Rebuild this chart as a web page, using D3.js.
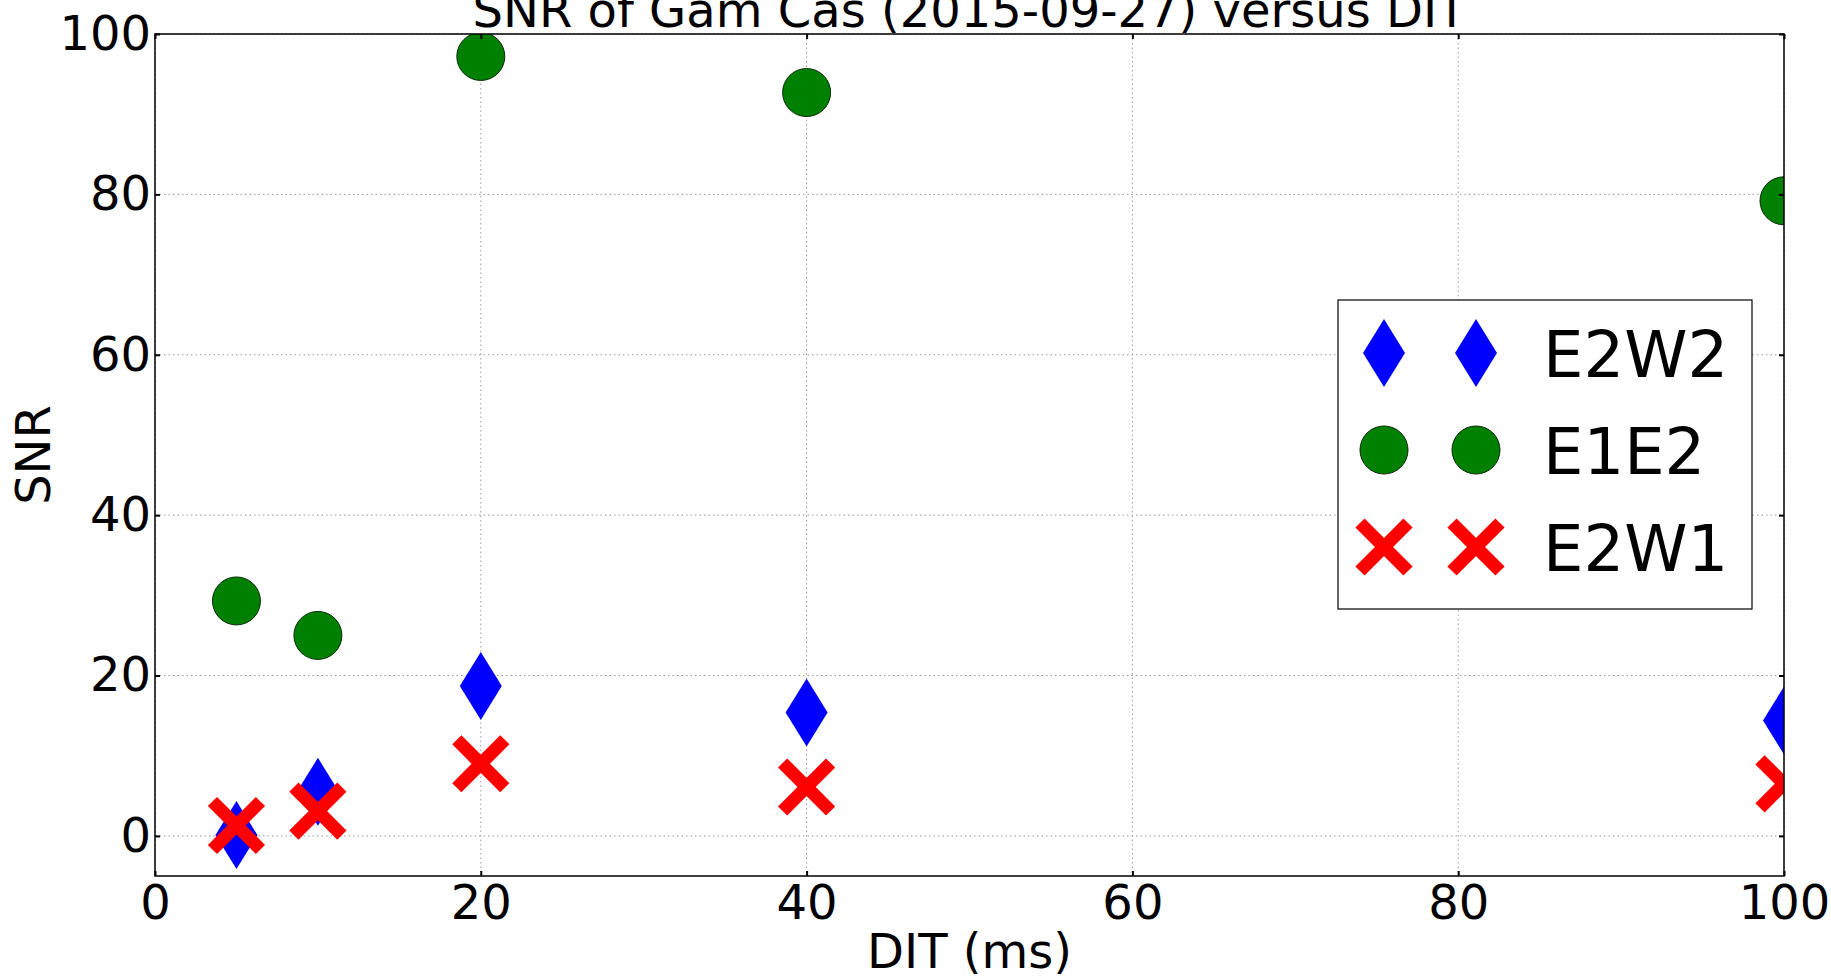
<!DOCTYPE html>
<html>
<head>
<meta charset="utf-8">
<script src="https://cdn.jsdelivr.net/npm/d3@7/dist/d3.min.js"></script>
<style>
  html, body { margin: 0; padding: 0; background: #fff; }
  svg { display: block; font-family: "DejaVu Sans", sans-serif; }
</style>
</head>
<body>
<svg id="chart" width="1831" height="980"></svg>
<script>
// Detector integration times (ms)
const dit = [5, 10, 20, 40, 100];
// SNR per baseline
const snrE2W2 = [0.1, 5.5, 18.7, 15.4, 14.4];
const snrE1E2 = [29.3, 25.0, 97.2, 92.7, 79.2];
const snrE2W1 = [1.3, 3.1, 9.0, 6.1, 6.5];
// Axis ticks
const xTicks = [0, 20, 40, 60, 80, 100];
const yTicks = [0, 20, 40, 60, 80, 100];

const series = [
  { name: "E2W2", values: snrE2W2, marker: "diamond", color: "#0000ff" },
  { name: "E1E2", values: snrE1E2, marker: "circle", color: "#008000" },
  { name: "E2W1", values: snrE2W1, marker: "cross", color: "#ff0000" }
];

const plot = { left: 155, right: 1784, top: 34, bottom: 876 };
const svg = d3.select("#chart");

const x = d3.scaleLinear().domain([0, 100]).range([plot.left, plot.right]);
const y = d3.scaleLinear().domain([-5, 100]).range([plot.bottom, plot.top]);

// Grid lines (dotted)
const grid = svg.append("g").attr("class", "grid");
grid.selectAll("line.gx").data(xTicks).join("line")
  .attr("x1", d => x(d)).attr("x2", d => x(d))
  .attr("y1", plot.top).attr("y2", plot.bottom)
  .attr("stroke", "#9a9a9a").attr("stroke-width", 1).attr("stroke-dasharray", "1.5,3");
grid.selectAll("line.gy").data(yTicks).join("line")
  .attr("x1", plot.left).attr("x2", plot.right)
  .attr("y1", d => y(d)).attr("y2", d => y(d))
  .attr("stroke", "#9a9a9a").attr("stroke-width", 1).attr("stroke-dasharray", "1.5,3");

// Clip markers to the axes area
svg.append("clipPath").attr("id", "plotClip")
  .append("rect")
  .attr("x", plot.left).attr("y", plot.top)
  .attr("width", plot.right - plot.left).attr("height", plot.bottom - plot.top);

// Marker drawing helpers
const diamondH = 68, diamondW = 42, circleR = 24, crossHalf = 24, crossW = 13;
function drawMarker(g, kind, color, cx, cy) {
  if (kind === "diamond") {
    g.append("path")
      .attr("d", `M${cx},${cy - diamondH / 2} L${cx + diamondW / 2},${cy} L${cx},${cy + diamondH / 2} L${cx - diamondW / 2},${cy} Z`)
      .attr("fill", color);
  } else if (kind === "circle") {
    g.append("circle").attr("cx", cx).attr("cy", cy).attr("r", circleR)
      .attr("fill", color).attr("stroke", "#0a2a0a").attr("stroke-width", 1);
  } else {
    g.append("path")
      .attr("d", `M${cx - crossHalf},${cy - crossHalf} L${cx + crossHalf},${cy + crossHalf} M${cx - crossHalf},${cy + crossHalf} L${cx + crossHalf},${cy - crossHalf}`)
      .attr("stroke", color).attr("stroke-width", crossW).attr("fill", "none");
  }
}

const marks = svg.append("g").attr("clip-path", "url(#plotClip)");
series.forEach(s => {
  const g = marks.append("g").attr("class", "series-" + s.name);
  s.values.forEach((v, i) => drawMarker(g, s.marker, s.color, x(dit[i]), y(v)));
});

// Frame
svg.append("rect")
  .attr("x", plot.left).attr("y", plot.top)
  .attr("width", plot.right - plot.left).attr("height", plot.bottom - plot.top)
  .attr("fill", "none").attr("stroke", "#000").attr("stroke-width", 1.5);

// Axes with inward ticks on all four sides
const tickLen = 5;
const fontSize = 48;
const xAxisB = d3.axisBottom(x).tickValues(xTicks).tickSize(-tickLen).tickPadding(9);
const xAxisT = d3.axisTop(x).tickValues(xTicks).tickSize(-tickLen).tickFormat("");
const yAxisL = d3.axisLeft(y).tickValues(yTicks).tickSize(-tickLen).tickPadding(4);
const yAxisR = d3.axisRight(y).tickValues(yTicks).tickSize(-tickLen).tickFormat("");

function styleAxis(g) {
  g.select(".domain").remove();
  g.selectAll(".tick line").attr("stroke", "#000").attr("stroke-width", 2);
  g.selectAll(".tick text").attr("fill", "#000")
    .style("font-size", fontSize + "px").style("font-family", "DejaVu Sans, sans-serif");
}
svg.append("g").attr("transform", `translate(0,${plot.bottom})`).call(xAxisB).call(styleAxis);
svg.append("g").attr("transform", `translate(0,${plot.top})`).call(xAxisT).call(styleAxis);
svg.append("g").attr("transform", `translate(${plot.left},0)`).call(yAxisL).call(styleAxis);
svg.append("g").attr("transform", `translate(${plot.right},0)`).call(yAxisR).call(styleAxis);

// Title and axis labels
svg.append("text")
  .attr("x", (plot.left + plot.right) / 2).attr("y", 27)
  .attr("text-anchor", "middle").style("font-size", fontSize + "px")
  .text("SNR of Gam Cas (2015-09-27) versus DIT");
svg.append("text")
  .attr("x", (plot.left + plot.right) / 2).attr("y", 968)
  .attr("text-anchor", "middle").style("font-size", fontSize + "px")
  .text("DIT (ms)");
svg.append("text")
  .attr("transform", `translate(50,${(plot.top + plot.bottom) / 2}) rotate(-90)`)
  .attr("text-anchor", "middle").style("font-size", fontSize + "px")
  .text("SNR");

// Legend: two sample markers per entry
const legend = { x: 1338, y: 300, w: 414, h: 309 };
const lg = svg.append("g").attr("class", "legend");
lg.append("rect")
  .attr("x", legend.x).attr("y", legend.y).attr("width", legend.w).attr("height", legend.h)
  .attr("fill", "#fff").attr("stroke", "#000").attr("stroke-width", 1.2);
const rowY = [353, 450, 547];
series.forEach((s, i) => {
  drawMarker(lg, s.marker, s.color, 1384, rowY[i]);
  drawMarker(lg, s.marker, s.color, 1476, rowY[i]);
  lg.append("text")
    .attr("x", 1543).attr("y", rowY[i]).attr("dy", "0.37em")
    .style("font-size", "64px").text(s.name);
});
</script>
</body>
</html>
